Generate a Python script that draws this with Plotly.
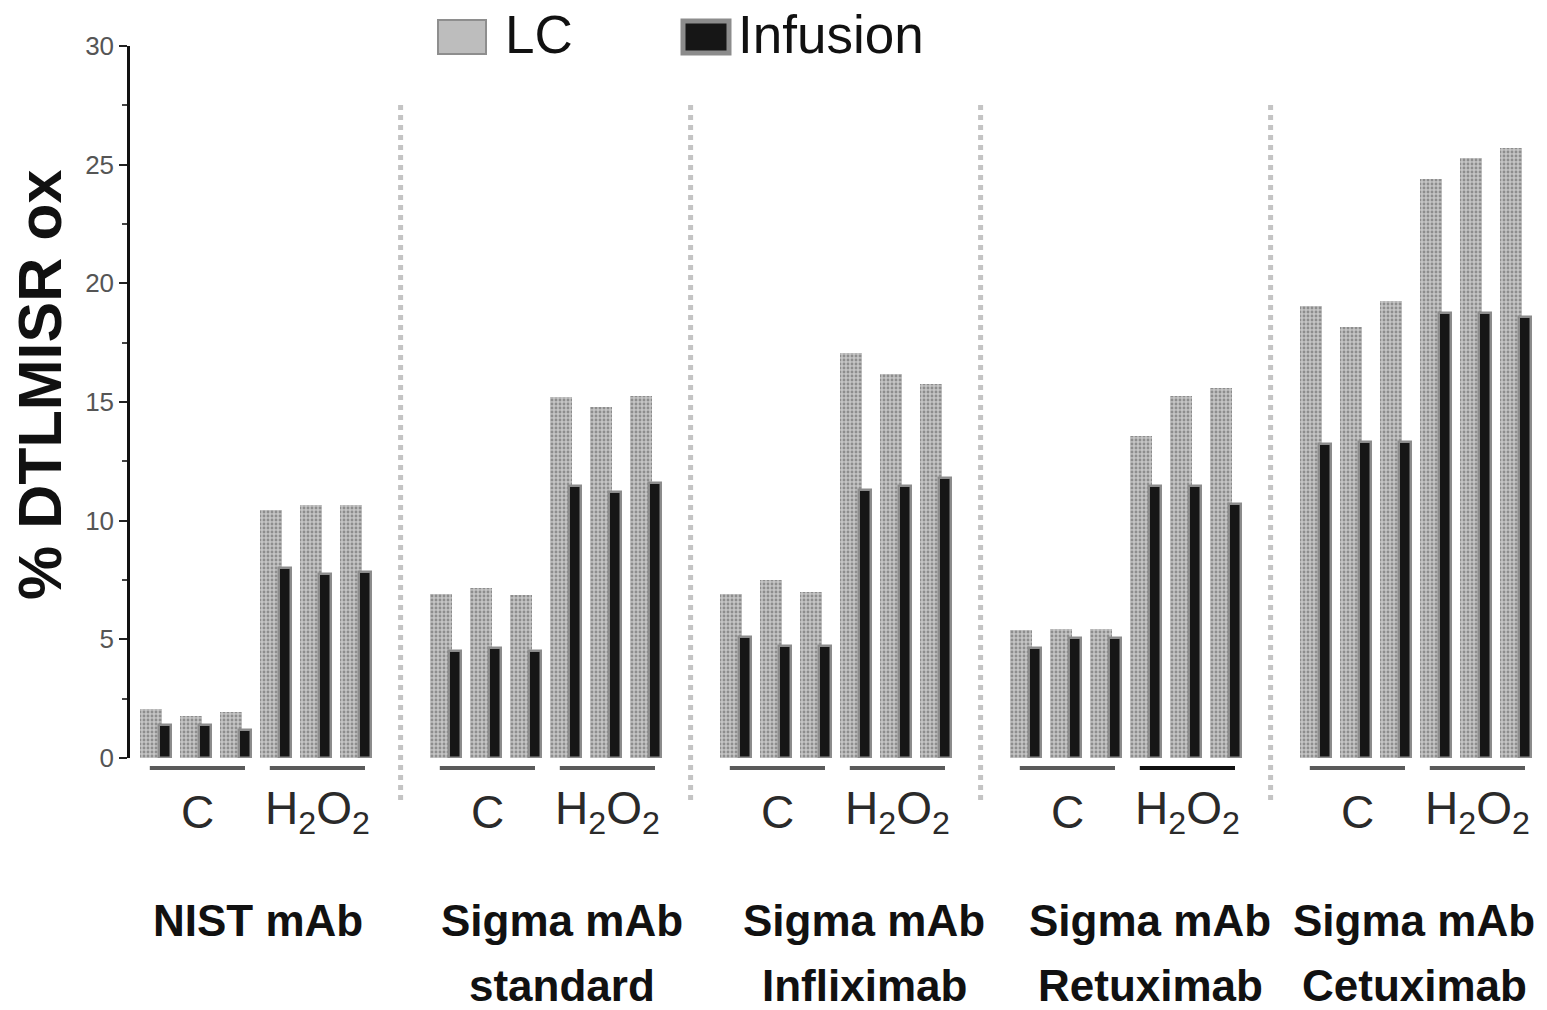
import plotly.graph_objects as go

# Samples, conditions and replicate values (% DTLMISR oxidation)
sample_line1 = ["NIST mAb", "Sigma mAb", "Sigma mAb", "Sigma mAb", "Sigma mAb"]
sample_line2 = ["", "standard", "Infliximab", "Retuximab", "Cetuximab"]
conditions = ["C", "H<sub>2</sub>O<sub>2</sub>"]
replicates = 3

lc_nist = [2.05, 1.75, 1.95, 10.45, 10.65, 10.65]
lc_standard = [6.9, 7.15, 6.85, 15.2, 14.8, 15.25]
lc_infliximab = [6.9, 7.5, 7.0, 17.05, 16.2, 15.75]
lc_retuximab = [5.4, 5.45, 5.45, 13.55, 15.25, 15.6]
lc_cetuximab = [19.05, 18.15, 19.25, 24.4, 25.3, 25.7]

inf_nist = [1.4, 1.4, 1.2, 8.0, 7.75, 7.85]
inf_standard = [4.5, 4.65, 4.5, 11.45, 11.2, 11.6]
inf_infliximab = [5.1, 4.7, 4.7, 11.3, 11.45, 11.8]
inf_retuximab = [4.65, 5.05, 5.05, 11.45, 11.45, 10.7]
inf_cetuximab = [13.25, 13.3, 13.3, 18.75, 18.75, 18.6]

y_ticks = [0, 5, 10, 15, 20, 25, 30]

lc_all = [lc_nist, lc_standard, lc_infliximab, lc_retuximab, lc_cetuximab]
inf_all = [inf_nist, inf_standard, inf_infliximab, inf_retuximab, inf_cetuximab]

# layout geometry (x in bar-pair units)
GROUP_PITCH = 7.25
INF_OFFSET = 0.34
LC_WIDTH = 0.55
INF_WIDTH = 0.3
X_RANGE = [-0.525, 34.725]
W, H = 1547, 1010
ML, MR, MT, MB = 130, 7, 46, 252
PW = W - ML - MR
PH = H - MT - MB

NARROW = "Liberation Sans Narrow, Arial Narrow, Liberation Sans, Arial"
SANS = "Liberation Sans, Arial"


def px_to_paper_x(px):
    return (px - ML) / PW


def px_to_paper_y(py):
    return (H - MB - py) / PH


n_groups = len(sample_line1)
x_lc, y_lc, x_inf, y_inf = [], [], [], []
for g in range(n_groups):
    for j in range(len(conditions) * replicates):
        xpos = g * GROUP_PITCH + j
        x_lc.append(xpos)
        y_lc.append(lc_all[g][j])
        x_inf.append(xpos + INF_OFFSET)
        y_inf.append(inf_all[g][j])

fig = go.Figure()
fig.add_trace(go.Bar(
    x=x_lc, y=y_lc, width=LC_WIDTH, name="LC",
    marker=dict(color="#bdbdbd", line=dict(width=0),
                pattern=dict(shape=".", fgcolor="#555555", bgcolor="#c4c4c4",
                             size=4, solidity=0.4)),
    showlegend=False,
))
fig.add_trace(go.Bar(
    x=x_inf, y=y_inf, width=INF_WIDTH, name="Infusion",
    marker=dict(color="#161616", line=dict(color="#8c8c8c", width=2.5)),
    showlegend=False,
))

shapes = []
annotations = []

# dotted separators between samples
for g in range(n_groups - 1):
    xs = g * GROUP_PITCH + 6.24
    shapes.append(dict(type="line", xref="x", yref="paper", x0=xs, x1=xs,
                       y0=px_to_paper_y(800), y1=px_to_paper_y(105),
                       line=dict(color="#c4c4c4", width=5, dash="dot")))

# condition underlines and labels
for g in range(n_groups):
    for c in range(len(conditions)):
        j0 = c * replicates
        j1 = j0 + replicates - 1
        x0 = g * GROUP_PITCH + j0 - 0.03
        x1 = g * GROUP_PITCH + j1 + 0.35
        color = "#111111" if (g == 3 and c == 1) else "#5a5a5a"
        shapes.append(dict(type="line", xref="x", yref="paper", x0=x0, x1=x1,
                           y0=px_to_paper_y(768), y1=px_to_paper_y(768),
                           line=dict(color=color, width=4)))
        annotations.append(dict(
            x=g * GROUP_PITCH + j0 + 1.17, xref="x",
            y=px_to_paper_y(812), yref="paper",
            text=conditions[c], showarrow=False, xanchor="center", yanchor="middle",
            font=dict(family=NARROW, size=46, color="#2a2a2a")))

# sample names (two lines)
name_center = [258, 562, 864, 1150, 1414]
for g in range(n_groups):
    for line_text, py in ((sample_line1[g], 920), (sample_line2[g], 985)):
        if not line_text:
            continue
        annotations.append(dict(
            x=px_to_paper_x(name_center[g]), xref="paper",
            y=px_to_paper_y(py), yref="paper",
            text="<b>" + line_text + "</b>", showarrow=False,
            xanchor="center", yanchor="middle",
            font=dict(family=NARROW, size=44, color="#111111")))

# y-axis title
annotations.append(dict(
    x=px_to_paper_x(40), y=px_to_paper_y(385), xref="paper", yref="paper",
    text="<b>% DTLMISR ox</b>", textangle=-90, showarrow=False,
    xanchor="center", yanchor="middle",
    font=dict(family=SANS, size=61, color="#111111")))

# legend
shapes.append(dict(type="rect", xref="paper", yref="paper",
                   x0=px_to_paper_x(438), x1=px_to_paper_x(486),
                   y0=px_to_paper_y(54), y1=px_to_paper_y(20),
                   fillcolor="#bdbdbd", line=dict(color="#8e8e8e", width=2)))
annotations.append(dict(x=px_to_paper_x(503), y=px_to_paper_y(35), xref="paper", yref="paper",
                        text="LC", showarrow=False, xanchor="left", yanchor="middle",
                        font=dict(family=SANS, size=53, color="#111111")))
shapes.append(dict(type="rect", xref="paper", yref="paper",
                   x0=px_to_paper_x(683), x1=px_to_paper_x(729),
                   y0=px_to_paper_y(53), y1=px_to_paper_y(21),
                   fillcolor="#161616", line=dict(color="#8c8c8c", width=5)))
annotations.append(dict(x=px_to_paper_x(736), y=px_to_paper_y(35), xref="paper", yref="paper",
                        text="Infusion", showarrow=False, xanchor="left", yanchor="middle",
                        font=dict(family=SANS, size=53, color="#111111")))

fig.update_layout(
    width=W, height=H,
    margin=dict(l=ML, r=MR, t=MT, b=MB, autoexpand=False),
    paper_bgcolor="white", plot_bgcolor="white",
    barmode="overlay", bargap=0,
    shapes=shapes, annotations=annotations,
    showlegend=False,
)
fig.update_xaxes(range=X_RANGE, visible=False, showgrid=False, zeroline=False)
fig.update_yaxes(
    range=[0, 30], tickvals=y_ticks, ticktext=[str(v) for v in y_ticks],
    showline=True, linecolor="#111111", linewidth=2.5,
    ticks="outside", ticklen=8, tickwidth=2, tickcolor="#222222",
    minor=dict(dtick=2.5, ticks="outside", ticklen=5, tickwidth=1.5, tickcolor="#444444"),
    showgrid=False, zeroline=False,
    tickfont=dict(family=SANS, size=26, color="#555555"),
)

fig.write_html("out.html")
